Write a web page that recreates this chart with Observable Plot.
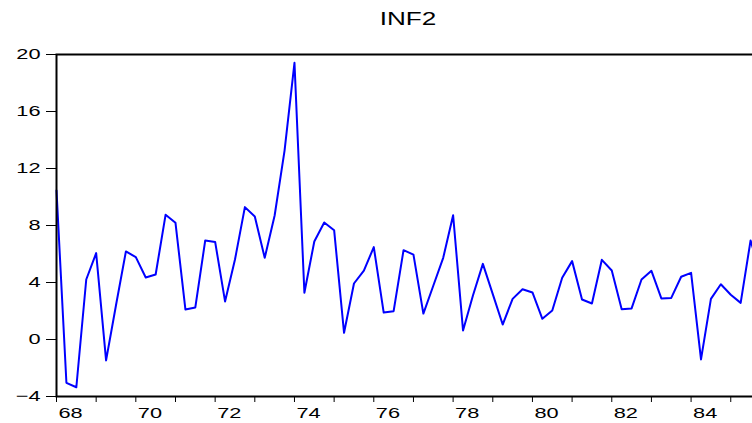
<!DOCTYPE html>
<html>
<head>
<meta charset="utf-8">
<script src="https://cdn.jsdelivr.net/npm/d3@7"></script>
<script src="https://cdn.jsdelivr.net/npm/@observablehq/plot@0.6"></script>
<style>
  html, body { margin: 0; padding: 0; background: #fff; overflow: hidden; width: 752px; height: 423px; }
  #wrap { position: relative; width: 752px; height: 423px; overflow: hidden; }
  #title { position: absolute; left: 0; top: 10px; width: 816px; text-align: center;
           font-family: "Liberation Sans", Arial, sans-serif; font-size: 18px; line-height: 18px;
           color: #000; transform: scaleX(1.45); transform-origin: 408px 0; }
  #chart { position: absolute; left: 0; top: 0; width: 780px; height: 423px; }
  #chart svg { max-width: none !important; }
</style>
</head>
<body>
<div id="wrap">
  <div id="chart"></div>
  <div id="title">INF2</div>
</div>
<script>
// Quarterly series INF2, starting 1968Q1
const startYear = 1968;
const inf2 = [
  10.46, -3.04, -3.35, 4.21, 6.06, -1.47, 2.40, 6.18,
  5.78, 4.35, 4.56, 8.75, 8.19, 2.11, 2.25, 6.95,
  6.85, 2.67, 5.61, 9.29, 8.63, 5.73, 8.70, 13.26,
  19.42, 3.28, 6.88, 8.21, 7.67, 0.47, 3.93, 4.84,
  6.48, 1.89, 1.99, 6.27, 5.96, 1.82, 3.77, 5.73,
  8.72, 0.63, 3.09, 5.31, 3.18, 1.05, 2.85, 3.53,
  3.30, 1.45, 2.03, 4.33, 5.50, 2.81, 2.53, 5.59,
  4.84, 2.13, 2.18, 4.21, 4.82, 2.88, 2.92, 4.40,
  4.68, -1.40, 2.85, 3.88, 3.14, 2.57, 6.95, 4.60
];
const yTicks = [-4, 0, 4, 8, 12, 16, 20];
const tickYears = [1968,1969,1970,1971,1972,1973,1974,1975,1976,1977,1978,1979,1980,1981,1982,1983,1984,1985];
const labelYears = [1968,1970,1972,1974,1976,1978,1980,1982,1984];
const labelTexts = ["68","70","72","74","76","78","80","82","84"];

const data = inf2.map((v, i) => ({t: startYear + i / 4, v}));
const lastT = startYear + (inf2.length - 1) / 4;

const chart = Plot.plot({
  width: 780,
  height: 423,
  marginTop: 54,
  marginBottom: 27,
  marginLeft: 56,
  marginRight: 20,
  x: {domain: [startYear, lastT]},
  y: {domain: [-4, 20]},
  style: {fontFamily: "'Liberation Sans', Arial, sans-serif", fontSize: "15px", color: "#000", background: "#fff", maxWidth: "none"},
  marks: [
    Plot.axisY(yTicks, {tickSize: 10, tickPadding: 6, label: null, stroke: "#000", strokeWidth: 1, fill: "#000"}),
    Plot.axisX(tickYears, {tickSize: 6, tickFormat: () => "", label: null, stroke: "#000", strokeWidth: 1}),
    Plot.axisX(labelYears, {tickSize: 0, tickPadding: 11, textAnchor: "start", dx: 2, fill: "#000",
      tickFormat: d => labelTexts[labelYears.indexOf(d)], label: null}),
    Plot.line(data, {x: "t", y: "v", stroke: "#0000ff", strokeWidth: 2}),
    Plot.frame({stroke: "#000", strokeWidth: 2})
  ]
});
chart.style.maxWidth = "none";
document.getElementById("chart").appendChild(chart);

// Widen glyphs horizontally as in the original export
chart.querySelectorAll("text").forEach(t => {
  const L = t.getComputedTextLength();
  if (L > 0) {
    t.setAttribute("textLength", (L * 1.45).toFixed(1));
    t.setAttribute("lengthAdjust", "spacingAndGlyphs");
  }
});
</script>
</body>
</html>
